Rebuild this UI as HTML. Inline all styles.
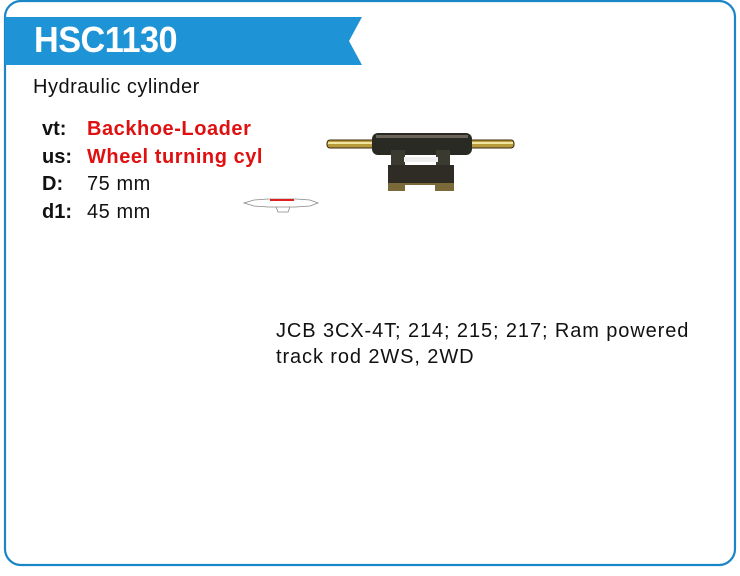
<!DOCTYPE html>
<html><head><style>
body{margin:0;width:740px;height:576px;background:#fff;position:relative;overflow:hidden;font-family:"Liberation Sans",Arial,sans-serif}
.t{position:absolute;white-space:nowrap}
</style></head><body>
<svg width="740" height="576" style="position:absolute;left:0;top:0">
<rect x="5" y="1" width="730" height="564" rx="16" ry="16" fill="none" stroke="#1a86c8" stroke-width="2.2"/>
<polygon points="5,17 362,17 349,41 362,65 5,65" fill="#1e93d6"/>
<g>
<rect x="327" y="140" width="53" height="8" rx="3" fill="#b89a3a" stroke="#3a2a10" stroke-width="1"/>
<rect x="328" y="142" width="51" height="2" fill="#f0e4a0"/>
<rect x="468" y="140" width="46" height="8" rx="3" fill="#b89a3a" stroke="#3a2a10" stroke-width="1"/>
<rect x="469" y="142" width="44" height="2" fill="#f0e4a0"/>
<rect x="372" y="133" width="100" height="22" rx="6" fill="#2a2a24"/>
<rect x="376" y="135" width="92" height="3" fill="#6a6458"/>
<rect x="391" y="150" width="14" height="18" fill="#3a3a30"/>
<rect x="436" y="150" width="14" height="18" fill="#3a3a30"/>
<rect x="388" y="165" width="66" height="20" fill="#2e2c24"/>
<rect x="388" y="183" width="66" height="8" fill="#7a6a3a"/>
<rect x="405" y="185" width="30" height="8" fill="#fff"/>
<rect x="404" y="157" width="34" height="5" fill="#eee"/>
</g>
<g stroke="#888" fill="none" stroke-width="0.8">
<path d="M244 203 L254 200 L268 199 L296 199 L310 200 L318 203 L310 206 L296 207 L268 207 L254 206 Z"/>
<path d="M276 207 L278 212 L288 212 L290 207"/>
</g>
<line x1="270" y1="200" x2="294" y2="200" stroke="#e02020" stroke-width="2"/>
</svg>
<div class="t" style="left:34px;top:18px;font-size:36px;font-weight:bold;color:#fff;line-height:44px;letter-spacing:-0.5px;transform:scaleX(0.95);transform-origin:0 0">HSC1130</div>
<div class="t" style="left:33px;top:76px;font-size:20px;color:#111;letter-spacing:0.5px">Hydraulic cylinder</div>
<div class="t" style="left:42px;top:116px;font-size:20px;font-weight:bold;color:#111;line-height:27.5px">vt:<br>us:<br>D:<br>d1:</div>
<div class="t" style="left:87px;top:116px;font-size:20px;color:#111;line-height:27.5px;letter-spacing:0.55px"><b style="color:#e01010">Backhoe-Loader</b><br><b style="color:#e01010">Wheel turning cyl</b><br>75 mm<br>45 mm</div>
<div class="t" style="left:276px;top:318px;font-size:20px;color:#111;line-height:26px;letter-spacing:0.9px">JCB 3CX-4T; 214; 215; 217; Ram powered<br>track rod 2WS, 2WD</div>
</body></html>
